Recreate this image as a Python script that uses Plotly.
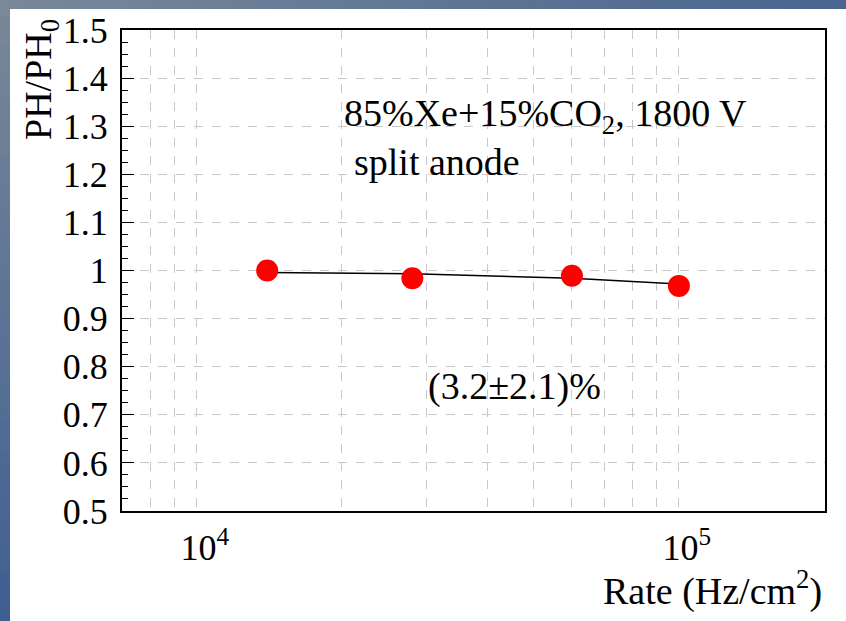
import plotly.graph_objects as go

# Data
rate = [1.4e4, 2.8e4, 6.0e4, 1.0e5]
ph_ratio = [1.000, 0.984, 0.989, 0.968]
fit_rate = [1.4e4, 2.8e4, 6.0e4, 1.0e5]
fit_ratio = [0.996, 0.993, 0.984, 0.972]

y_tickvals = [0.5, 0.6, 0.7, 0.8, 0.9, 1.0, 1.1, 1.2, 1.3, 1.4, 1.5]
y_ticktext = ["0.5", "0.6", "0.7", "0.8", "0.9", "1", "1.1", "1.2", "1.3", "1.4", "1.5"]
x_tickvals = [1e4, 1e5]
x_ticktext = ["10<sup>4</sup>", "10<sup>5</sup>"]
x_minor_vals = [8e3, 9e3, 2e4, 3e4, 4e4, 5e4, 6e4, 7e4, 8e4, 9e4]

FONT = "Liberation Serif"
W, H = 846, 621
L, R, T, B = 122, 21, 30, 110
pw, ph = W - L - R, H - T - B

def px_to_paper_x(px):
    return (px - L) / pw

def px_to_paper_y(py):
    return (H - B - py) / ph

fig = go.Figure()
fig.add_trace(go.Scatter(x=fit_rate, y=fit_ratio, mode="lines",
                         line=dict(color="black", width=1.5), showlegend=False))
fig.add_trace(go.Scatter(x=rate, y=ph_ratio, mode="markers",
                         marker=dict(color="#ff0000", size=22, line=dict(width=0)),
                         showlegend=False))

shapes = []
n = 40
def lerp(c1, c2, t):
    return "rgb(%d,%d,%d)" % tuple(round(a + (b - a) * t) for a, b in zip(c1, c2))
top_c1, top_c2 = (120, 136, 153), (74, 101, 144)
left_c1, left_c2 = (122, 136, 152), (63, 95, 146)
for i in range(n):
    shapes.append(dict(type="rect", xref="paper", yref="paper", layer="below",
                       x0=px_to_paper_x(W * i / n), x1=px_to_paper_x(W * (i + 1) / n + 1),
                       y0=px_to_paper_y(9), y1=px_to_paper_y(0),
                       fillcolor=lerp(top_c1, top_c2, i / (n - 1)), line=dict(width=0)))
    shapes.append(dict(type="rect", xref="paper", yref="paper", layer="below",
                       x0=px_to_paper_x(0), x1=px_to_paper_x(10),
                       y0=px_to_paper_y(H * (i + 1) / n + 1), y1=px_to_paper_y(H * i / n),
                       fillcolor=lerp(left_c1, left_c2, i / (n - 1)), line=dict(width=0)))

annotations = [
    dict(text="85%Xe+15%CO<sub>2</sub>, 1800 V", xref="paper", yref="paper",
         x=px_to_paper_x(342), y=px_to_paper_y(116), xanchor="left", yanchor="middle",
         showarrow=False, font=dict(family=FONT, size=38, color="black")),
    dict(text="split anode", xref="paper", yref="paper",
         x=px_to_paper_x(352), y=px_to_paper_y(162), xanchor="left", yanchor="middle",
         showarrow=False, font=dict(family=FONT, size=38, color="black")),
    dict(text="(3.2±2.1)%", xref="paper", yref="paper",
         x=px_to_paper_x(426), y=px_to_paper_y(386), xanchor="left", yanchor="middle",
         showarrow=False, font=dict(family=FONT, size=38, color="black")),
    dict(text="PH/PH<sub>0</sub>", xref="paper", yref="paper", textangle=-90,
         x=px_to_paper_x(41), y=px_to_paper_y(80), xanchor="center", yanchor="middle",
         showarrow=False, font=dict(family=FONT, size=38, color="black")),
    dict(text="Rate (Hz/cm<sup>2</sup>)", xref="paper", yref="paper",
         x=px_to_paper_x(824), y=px_to_paper_y(588), xanchor="right", yanchor="middle",
         showarrow=False, font=dict(family=FONT, size=38, color="black")),
]

fig.update_layout(
    width=W, height=H,
    margin=dict(l=L, r=R, t=T, b=B),
    paper_bgcolor="white", plot_bgcolor="white",
    shapes=shapes, annotations=annotations,
    xaxis=dict(type="log", range=[3.845, 5.303],
               tickvals=x_tickvals, ticktext=x_ticktext, ticks="",
               minor=dict(tickvals=x_minor_vals, ticks="", showgrid=True,
                          gridcolor="#c8c8c8", griddash="dash", gridwidth=1),
               ticklabelshift=8, ticklabelstandoff=4,
               showgrid=True, gridcolor="#c8c8c8", griddash="dash", gridwidth=1,
               showline=True, linecolor="black", linewidth=2, mirror=True,
               zeroline=False, tickfont=dict(family=FONT, size=36, color="black")),
    yaxis=dict(range=[0.5, 1.5], tickvals=y_tickvals, ticktext=y_ticktext,
               ticks="inside", ticklen=12, tickcolor="black",
               minor=dict(ticks="inside", ticklen=6, dtick=0.025, tickcolor="black", showgrid=False),
               showgrid=True, gridcolor="#c8c8c8", griddash="dash", gridwidth=1,
               showline=True, linecolor="black", linewidth=2, mirror=True,
               zeroline=False, ticklabelstandoff=5,
               tickfont=dict(family=FONT, size=36, color="black")),
)

fig.write_html("out.html")
